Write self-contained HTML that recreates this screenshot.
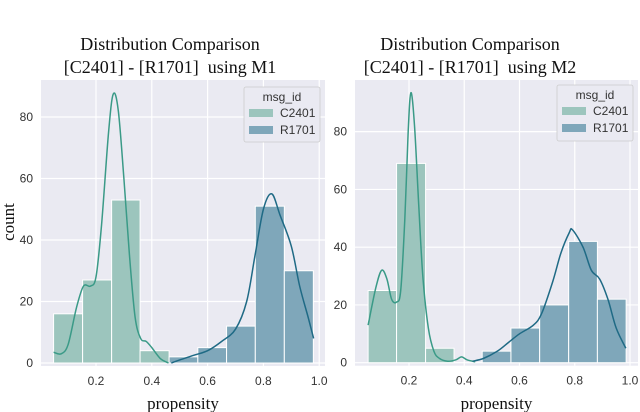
<!DOCTYPE html>
<html><head><meta charset="utf-8"><style>
body{margin:0;background:#fff;}
svg{display:block;}
text{font-family:"Liberation Sans",sans-serif;}
.serif{font-family:"Liberation Serif",serif;white-space:pre;}
</style></head><body>
<svg id="s" width="640" height="412" viewBox="0 0 640 412"></svg>
<script>
// ===== Data =====
const tickX = [0.2,0.4,0.6,0.8,1.0];
const tickXLabels = ["0.2","0.4","0.6","0.8","1.0"];
const tickY = [0,20,40,60,80];
const tickYLabels = ["0","20","40","60","80"];
const seriesNames = ["C2401","R1701"];
// Left (M1)
const m1Edges = [0.048,0.152,0.256,0.358,0.462,0.565,0.668,0.771,0.875,0.979];
const m1C = [16,27,53,4,0,0,0,0,0];
const m1R = [0,0,0,0,2,5,12,51,30];
const m1KdeCx = [0.048,0.075,0.1,0.13,0.155,0.18,0.2,0.22,0.245,0.262,0.28,0.3,0.32,0.34,0.36,0.38,0.4,0.43,0.46];
const m1KdeCy = [3.5,3,6,18,25,25,28,45,75,87.5,82,60,35,15,8,7,5,1.5,0];
const m1KdeRx = [0.47,0.5,0.55,0.6,0.65,0.7,0.74,0.77,0.8,0.83,0.86,0.9,0.93,0.96,0.98];
const m1KdeRy = [0,1,2.5,4,7,11,20,35,50,55,48,38,25,15,8];
// Right (M2)
const m2Edges = [0.052,0.155,0.26,0.363,0.465,0.569,0.673,0.778,0.882,0.986];
const m2C = [25,69,5,0,0,0,0,0,0];
const m2R = [0,0,0,0,4,12,20,42,22];
const m2KdeCx = [0.052,0.08,0.101,0.12,0.137,0.155,0.17,0.185,0.197,0.207,0.22,0.235,0.25,0.27,0.29,0.31,0.34,0.37,0.39,0.41,0.44];
const m2KdeCy = [13,26,32,29,22,21,25,50,80,93.5,82,55,30,12,4,1.5,0.5,1,2,1,0.3];
const m2KdeRx = [0.43,0.47,0.52,0.56,0.6,0.65,0.68,0.72,0.75,0.78,0.792,0.83,0.86,0.89,0.92,0.95,0.985];
const m2KdeRy = [0.5,1.5,4,7,10,13,17,28,38,45,46,40,32,29,22,12,5];

const NS="http://www.w3.org/2000/svg";
const svg=document.getElementById('s');
function mk(tag,attrs,parent,name,inter){
  const e=document.createElementNS(NS,tag);
  for(const k in attrs)e.setAttribute(k,attrs[k]);
  
  
  (parent||svg).appendChild(e);return e;
}
function smooth(pts){
  let d="M"+pts[0][0]+","+pts[0][1];
  for(let i=0;i<pts.length-1;i++){
    const p0=pts[Math.max(i-1,0)],p1=pts[i],p2=pts[i+1],p3=pts[Math.min(i+2,pts.length-1)];
    const c1=[p1[0]+(p2[0]-p0[0])/6,p1[1]+(p2[1]-p0[1])/6];
    const c2=[p2[0]-(p3[0]-p1[0])/6,p2[1]-(p3[1]-p1[1])/6];
    d+=" C"+c1[0]+","+c1[1]+" "+c2[0]+","+c2[1]+" "+p2[0]+","+p2[1];
  }
  return d;
}
function chart(cfg){
  const g=mk('g',{},svg,cfg.name,false);
  const sx=v=>cfg.x0+v*cfg.kx, sy=v=>cfg.y0-v*cfg.ky;
  mk('rect',{x:cfg.left,y:cfg.top,width:cfg.right-cfg.left,height:cfg.y0-cfg.top+3,fill:'#eaeaf2'},g,'plot-background',false);
  tickX.forEach((t,i)=>{
    mk('line',{x1:sx(t),x2:sx(t),y1:cfg.top,y2:cfg.y0+3,stroke:'#fff','stroke-width':1.2},g,'x-gridline',false);
    const tx=mk('text',{x:sx(t),y:cfg.y0+22,'font-size':12,fill:'#333','text-anchor':'middle'},g,'x-tick-label',false);tx.textContent=tickXLabels[i];
  });
  tickY.forEach((t,i)=>{
    if(sy(t)>cfg.top) mk('line',{x1:cfg.left,x2:cfg.right,y1:sy(t),y2:sy(t),stroke:'#fff','stroke-width':1.2},g,'y-gridline',false);
    const ty=mk('text',{x:cfg.left-8,y:sy(t)+4,'font-size':12,fill:'#333','text-anchor':'end'},g,'y-tick-label',false);ty.textContent=tickYLabels[i];
  });
  const drawBars=(vals,fill,nm)=>{
    vals.forEach((v,i)=>{ if(v<=0)return;
      const x1=sx(cfg.edges[i]),x2=sx(cfg.edges[i+1]);
      mk('rect',{x:x1,y:sy(v),width:x2-x1,height:sy(0)-sy(v),fill:fill,stroke:'#fff','stroke-width':1},g,nm,false);
    });
  };
  drawBars(cfg.c,'#9cc5bd','bar-c2401');
  drawBars(cfg.r,'#7fa7ba','bar-r1701');
  mk('path',{d:smooth(cfg.kcx.map((x,i)=>[sx(x),sy(cfg.kcy[i])])),fill:'none',stroke:'#3a9a87','stroke-width':1.5},g,'kde-line-c2401',false);
  mk('path',{d:smooth(cfg.krx.map((x,i)=>[sx(x),sy(cfg.kry[i])])),fill:'none',stroke:'#1f6a85','stroke-width':1.5},g,'kde-line-r1701',false);
  const t1=mk('text',{x:cfg.tx,y:50,'font-size':18,'text-anchor':'middle',fill:'#111',class:'serif'},g,'chart-title',false);t1.textContent='Distribution Comparison';
  const t2=mk('text',{x:cfg.tx,y:73,'font-size':18,'text-anchor':'middle',fill:'#111',class:'serif'},g,'chart-subtitle',false);t2.textContent=cfg.sub;
  const xl=mk('text',{x:(cfg.left+cfg.right)/2,y:409,'font-size':17,'text-anchor':'middle',fill:'#111',class:'serif'},g,'x-axis-title',false);xl.textContent='propensity';
  const L=cfg.leg;
  const lg=mk('g',{},g,'legend',false);
  mk('rect',{x:L[0],y:L[1],width:L[2],height:L[3],fill:'#eaeaf2',stroke:'#ccc','stroke-width':0.8,rx:2},lg,'legend-box',false);
  const lt=mk('text',{x:L[0]+L[2]/2,y:L[1]+14,'font-size':12,'text-anchor':'middle',fill:'#333'},lg,'legend-title',false);lt.textContent='msg_id';
  ['#9cc5bd','#7fa7ba'].forEach((c,i)=>{
    mk('rect',{x:L[0]+5,y:L[1]+22+i*17,width:24,height:8,fill:c},lg,'legend-swatch',false);
    const et=mk('text',{x:L[0]+36,y:L[1]+30+i*17,'font-size':12,fill:'#333'},lg,'legend-entry',false);et.textContent=seriesNames[i];
  });
}
chart({name:'chart-m1',left:41,right:325,top:80,y0:363,x0:40.2,kx:279,ky:3.075,edges:m1Edges,c:m1C,r:m1R,kcx:m1KdeCx,kcy:m1KdeCy,krx:m1KdeRx,kry:m1KdeRy,tx:170,sub:'[C2401] - [R1701]  using M1',leg:[244,87,76,55]});
chart({name:'chart-m2',left:355,right:638,top:80,y0:362.7,x0:353.75,kx:276.25,ky:2.888,edges:m2Edges,c:m2C,r:m2R,kcx:m2KdeCx,kcy:m2KdeCy,krx:m2KdeRx,kry:m2KdeRy,tx:470,sub:'[C2401] - [R1701]  using M2',leg:[557,85,76,56]});
const yl=mk('text',{x:14,y:222,'font-size':17,'text-anchor':'middle',fill:'#111',class:'serif',transform:'rotate(-90 14 222)'},svg,'y-axis-title',false);yl.textContent='count';
</script>
</body></html>
